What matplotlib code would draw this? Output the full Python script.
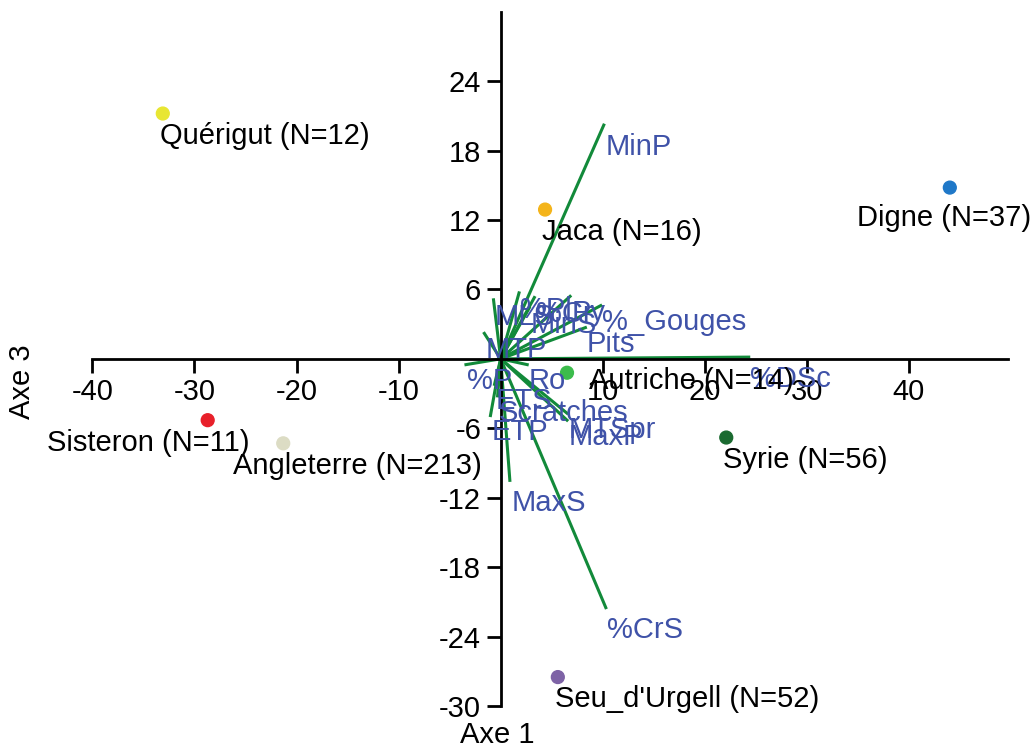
import numpy as np
import matplotlib.pyplot as plt

plt.rcParams['font.family'] = ['Liberation Sans', 'DejaVu Sans']
plt.rcParams['axes.unicode_minus'] = False

# Individus (sites) sur Axe 1 / Axe 3
sites = ["Quérigut (N=12)", "Jaca (N=16)", "Digne (N=37)", "Autriche (N=14)",
         "Sisteron (N=11)", "Angleterre (N=213)", "Syrie (N=56)", "Seu_d'Urgell (N=52)"]
site_x = [-33.1, 4.35, 44.0, 6.5, -28.7, -21.3, 22.1, 5.6]
site_y = [21.2, 12.9, 14.8, -1.2, -5.3, -7.3, -6.8, -27.5]
site_colors = ["#e8e632", "#f4b41a", "#1f78c8", "#3cbc4c",
               "#e8202a", "#dcdcc4", "#1a6a30", "#7e63a6"]

# Variables (vecteurs)
var_names = ["MinP", "%DSc", "%CrS", "MaxS", "MLS", "%Pl", "%Cr", "Py", "MinS",
             "%_Gouges", "Pits", "MTP", "%P", "Ro", "ETS", "Scratches", "ETP",
             "MTSpr", "MaxP"]
var_x = [10.1, 24.3, 10.3, 0.9, -0.7, 1.8, 3.3, 6.8, 2.8,
         9.8, 8.3, -1.6, -3.4, 2.6, -0.6, -0.3, -1.0, 6.5, 6.5]
var_y = [20.2, 0.15, -21.5, -10.5, 5.1, 5.7, 5.3, 5.4, 4.4,
         4.6, 2.7, 2.2, -0.5, -0.5, -2.2, -3.2, -4.9, -4.7, -5.3]

fig = plt.figure(figsize=(10.33, 7.49), dpi=100)
ax = fig.add_axes([0.0894, 0.0574, 0.8864, 0.927])
fs = 21

# vecteurs
for x, y, name in zip(var_x, var_y, var_names):
    ax.plot([0, x], [0, y], color="#128a3a", lw=2.2, zorder=2)
    dy = -6 if name in ("MinP", "%DSc", "%CrS", "MaxS") else -2
    ax.annotate(name, (x, y), xytext=(1, dy), textcoords="offset points",
                ha="left", va="top", color="#3f52a8", fontsize=fs, zorder=4)

# points
ax.scatter(site_x, site_y, s=85, c=site_colors, zorder=3)
# placement particulier de quelques étiquettes
label_place = {"Digne": ("center", -4, -12), "Sisteron": ("right", 30, -6),
               "Angleterre": ("left", -36, -6), "Autriche": ("left", 16, 4)}
for x, y, name in zip(site_x, site_y, sites):
    ha, dx, dy = label_place.get(name.split(" ")[0], ("left", -2, -6))
    ax.annotate(name, (x, y), xytext=(dx, dy), textcoords="offset points",
                ha=ha, va="top", color="black", fontsize=fs, zorder=4)

ax.set_xlim(-40, 49.7)
ax.set_ylim(-30, 30)
for s in ["top", "right"]:
    ax.spines[s].set_visible(False)
ax.spines["left"].set_position(("data", 0))
ax.spines["bottom"].set_position(("data", 0))
ax.spines["left"].set_linewidth(2)
ax.spines["bottom"].set_linewidth(2)

ax.set_xticks([-40, -30, -20, -10, 10, 20, 30, 40])
ax.set_yticks([-30, -24, -18, -12, -6, 6, 12, 18, 24])
ax.tick_params(axis="both", direction="out", length=10, width=2,
               labelsize=fs, pad=4)

fig.text(0.481, 0.019, "Axe 1", ha="center", va="center", fontsize=fs)
fig.text(0.021, 0.49, "Axe 3", ha="center", va="center", rotation=90, fontsize=fs)

fig.savefig("out.png", dpi=100)
